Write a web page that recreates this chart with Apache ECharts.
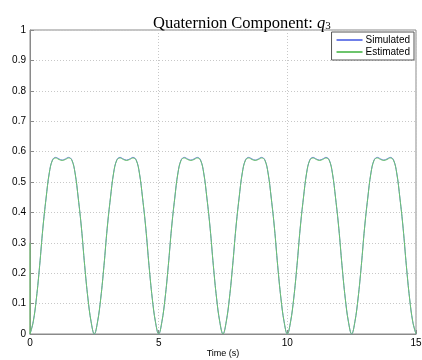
<!DOCTYPE html>
<html>
<head>
<meta charset="utf-8">
<script src="https://cdn.jsdelivr.net/npm/echarts@6/dist/echarts.min.js"></script>
<style>
  html, body { margin: 0; padding: 0; background: #fff; }
  #main { width: 422px; height: 360px; }
</style>
</head>
<body>
<div id="main"></div>
<script>
// time samples (s)
const time = [
  0, 0.125, 0.25, 0.375, 0.5, 0.625, 0.75, 0.875,
  1, 1.125, 1.25, 1.375, 1.5, 1.625, 1.75, 1.875,
  2, 2.125, 2.25, 2.375, 2.5, 2.625, 2.75, 2.875,
  3, 3.125, 3.25, 3.375, 3.5, 3.625, 3.75, 3.875,
  4, 4.125, 4.25, 4.375, 4.5, 4.625, 4.75, 4.875,
  5, 5.125, 5.25, 5.375, 5.5, 5.625, 5.75, 5.875,
  6, 6.125, 6.25, 6.375, 6.5, 6.625, 6.75, 6.875,
  7, 7.125, 7.25, 7.375, 7.5, 7.625, 7.75, 7.875,
  8, 8.125, 8.25, 8.375, 8.5, 8.625, 8.75, 8.875,
  9, 9.125, 9.25, 9.375, 9.5, 9.625, 9.75, 9.875,
  10, 10.125, 10.25, 10.375, 10.5, 10.625, 10.75, 10.875,
  11, 11.125, 11.25, 11.375, 11.5, 11.625, 11.75, 11.875,
  12, 12.125, 12.25, 12.375, 12.5, 12.625, 12.75, 12.875,
  13, 13.125, 13.25, 13.375, 13.5, 13.625, 13.75, 13.875,
  14, 14.125, 14.25, 14.375, 14.5, 14.625, 14.75, 14.875,
  15
];

// one row per 2.5 s cycle
const simulated = [
  0, 0.040, 0.118, 0.225, 0.348, 0.447, 0.530, 0.573, 0.581, 0.576, 0.572, 0.576, 0.581, 0.573, 0.530, 0.447, 0.348, 0.225, 0.118, 0.040,
  0, 0.040, 0.118, 0.225, 0.348, 0.447, 0.530, 0.573, 0.581, 0.576, 0.572, 0.576, 0.581, 0.573, 0.530, 0.447, 0.348, 0.225, 0.118, 0.040,
  0, 0.040, 0.118, 0.225, 0.348, 0.447, 0.530, 0.573, 0.581, 0.576, 0.572, 0.576, 0.581, 0.573, 0.530, 0.447, 0.348, 0.225, 0.118, 0.040,
  0, 0.040, 0.118, 0.225, 0.348, 0.447, 0.530, 0.573, 0.581, 0.576, 0.572, 0.576, 0.581, 0.573, 0.530, 0.447, 0.348, 0.225, 0.118, 0.040,
  0, 0.040, 0.118, 0.225, 0.348, 0.447, 0.530, 0.573, 0.581, 0.576, 0.572, 0.576, 0.581, 0.573, 0.530, 0.447, 0.348, 0.225, 0.118, 0.040,
  0, 0.040, 0.118, 0.225, 0.348, 0.447, 0.530, 0.573, 0.581, 0.576, 0.572, 0.576, 0.581, 0.573, 0.530, 0.447, 0.348, 0.225, 0.118, 0.040,
  0
];

const estimated = [
  0, 0.040, 0.118, 0.225, 0.348, 0.447, 0.530, 0.572, 0.579, 0.574, 0.571, 0.574, 0.579, 0.572, 0.530, 0.447, 0.348, 0.225, 0.118, 0.040,
  0, 0.040, 0.118, 0.225, 0.348, 0.447, 0.530, 0.572, 0.579, 0.574, 0.571, 0.574, 0.579, 0.572, 0.530, 0.447, 0.348, 0.225, 0.118, 0.040,
  0, 0.040, 0.118, 0.225, 0.348, 0.447, 0.530, 0.572, 0.579, 0.574, 0.571, 0.574, 0.579, 0.572, 0.530, 0.447, 0.348, 0.225, 0.118, 0.040,
  0, 0.040, 0.118, 0.225, 0.348, 0.447, 0.530, 0.572, 0.579, 0.574, 0.571, 0.574, 0.579, 0.572, 0.530, 0.447, 0.348, 0.225, 0.118, 0.040,
  0, 0.040, 0.118, 0.225, 0.348, 0.447, 0.530, 0.572, 0.579, 0.574, 0.571, 0.574, 0.579, 0.572, 0.530, 0.447, 0.348, 0.225, 0.118, 0.040,
  0, 0.040, 0.118, 0.225, 0.348, 0.447, 0.530, 0.572, 0.579, 0.574, 0.571, 0.574, 0.579, 0.572, 0.530, 0.447, 0.348, 0.225, 0.118, 0.040,
  0
];

// estimator initial guess at t = 0
const estInit = 0.3;

const simData = time.map((t, i) => [t, simulated[i]]);
const estData = [[0, estInit]].concat(time.map((t, i) => [t, estimated[i]]));

const chart = echarts.init(document.getElementById('main'));

const sans = 'Liberation Sans, Arial, sans-serif';
const serif = 'Liberation Serif, serif';
const axisFont = { color: '#000', fontFamily: sans, fontSize: 10 };

chart.setOption({
  animation: false,
  backgroundColor: '#fff',
  title: {
    text: '{a|Quaternion Component: }{q|q}{s|3}',
    left: 148,
    top: 10,
    textStyle: {
      rich: {
        a: { fontFamily: serif, fontSize: 16.5, fontWeight: 'normal', color: '#000' },
        q: { fontFamily: serif, fontSize: 16.5, fontWeight: 'normal', fontStyle: 'italic', color: '#000' },
        s: { fontFamily: serif, fontSize: 11, fontWeight: 'normal', color: '#000', padding: [6, 0, 0, 0] }
      }
    }
  },
  legend: {
    orient: 'vertical',
    right: 8,
    top: 32,
    align: 'left',
    itemWidth: 26,
    itemHeight: 8,
    itemGap: 2,
    padding: [3, 4, 3, 4],
    borderColor: '#555',
    borderWidth: 1,
    backgroundColor: '#fff',
    itemStyle: { opacity: 0 },
    textStyle: { color: '#000', fontFamily: sans, fontSize: 10, padding: [0, 0, 0, -2] },
    data: ['Simulated', 'Estimated']
  },
  grid: {
    left: 30,
    right: 6,
    top: 30,
    bottom: 26,
    outerBoundsMode: 'none',
    show: true,
    borderColor: '#8a8a8a',
    borderWidth: 1
  },
  xAxis: {
    type: 'value',
    min: 0,
    max: 15,
    interval: 5,
    name: 'Time (s)',
    nameLocation: 'middle',
    nameGap: 15,
    nameMoveOverlap: false,
    nameTextStyle: { color: '#000', fontFamily: sans, fontSize: 9 },
    axisLine: { lineStyle: { color: '#8a8a8a' } },
    axisTick: { inside: true, length: 4, lineStyle: { color: '#8a8a8a' } },
    axisLabel: Object.assign({ margin: 4 }, axisFont),
    splitLine: { show: true, lineStyle: { color: '#c8c8c8', type: [1, 2] } }
  },
  yAxis: {
    type: 'value',
    min: 0,
    max: 1,
    interval: 0.1,
    axisLine: { show: true, lineStyle: { color: '#8a8a8a' } },
    axisTick: { show: true, inside: true, length: 4, lineStyle: { color: '#8a8a8a' } },
    axisLabel: Object.assign({ margin: 4 }, axisFont),
    splitLine: { show: true, lineStyle: { color: '#c8c8c8', type: [1, 2] } }
  },
  series: [
    {
      name: 'Simulated',
      type: 'line',
      data: simData,
      symbol: 'none',
      smooth: 0.4,
      color: '#6f7fe8',
      lineStyle: { width: 1, color: '#6f7fe8' }
    },
    {
      name: 'Estimated',
      type: 'line',
      data: estData,
      symbol: 'none',
      smooth: 0.4,
      color: '#6cc46c',
      lineStyle: { width: 1, color: '#6cc46c' }
    }
  ]
});
</script>
</body>
</html>
